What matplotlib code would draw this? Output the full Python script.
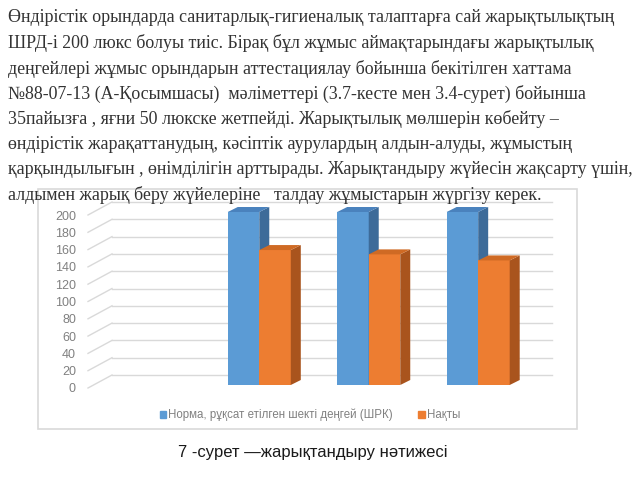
"""Slide: paragraph + 3D-look clustered column chart + caption."""
import matplotlib
matplotlib.use("Agg")
import matplotlib.pyplot as plt
import matplotlib.transforms as mtransforms
from matplotlib.patches import Polygon, Rectangle, Patch

paragraph = [
    "Өндірістік орындарда санитарлық-гигиеналық талаптарға сай жарықтылықтың",
    "ШРД-і 200 люкс болуы тиіс. Бірақ бұл жұмыс аймақтарындағы жарықтылық",
    "деңгейлері жұмыс орындарын аттестациялау бойынша бекітілген хаттама",
    "№88-07-13 (А-Қосымшасы)  мәліметтері (3.7-кесте мен 3.4-сурет) бойынша",
    "35пайызға , яғни 50 люкске жетпейді. Жарықтылық мөлшерін көбейту –",
    "өндірістік жарақаттанудың, кәсіптік аурулардың алдын-алуды, жұмыстың",
    "қарқындылығын , өнімділігін арттырады. Жарықтандыру жүйесін жақсарту үшін,",
    "алдымен жарық беру жүйелеріне   талдау жұмыстарын жүргізу керек.",
]
caption = "7 -сурет —жарықтандыру нәтижесі"

series_names = ["Норма, рұқсат етілген шекті деңгей (ШРК)", "Нақты"]
norm = [200, 200, 200]
actual = [156, 151, 144]
yticks = [0, 20, 40, 60, 80, 100, 120, 140, 160, 180, 200]

W, H = 640, 480
fig = plt.figure(figsize=(6.4, 4.8), dpi=100)


def fx(px):
    return px / W


def fy(py):
    return 1 - py / H


# paragraph text
for i, line in enumerate(paragraph):
    fig.text(fx(8), fy(18 + i * 25.3), line, fontsize=12.9,
             family="Liberation Serif", color="#333333", va="center", ha="left")

# chart frame
fig.patches.append(Rectangle((fx(38), fy(429)), fx(577) - fx(38), fy(189) - fy(429),
                             transform=fig.transFigure, fill=False,
                             edgecolor="#d9d9d9", lw=1.2))

# axes = front plane of the bars
left_px, right_px, bot_px, top_px = 94, 534, 385, 212
ax = fig.add_axes([fx(left_px), fy(bot_px), fx(right_px) - fx(left_px), fy(top_px) - fy(bot_px)])
xmin, xmax = -1.51, 2.51
ax.set_xlim(xmin, xmax)
ax.set_ylim(0, 200)
sx = (right_px - left_px) / (xmax - xmin)   # px per x unit
sy = (bot_px - top_px) / 200                 # px per y unit

# back wall + left wall gridlines
back_dx, back_dy = 18 / sx, 10 / sy
front_dx, front_dy = -6 / sx, -3 / sy
for v in yticks:
    ax.plot([xmin + front_dx, xmin + back_dx], [v + front_dy, v + back_dy],
            color="#d9d9d9", lw=1, clip_on=False, zorder=0)
    ax.plot([xmin + back_dx, xmax + back_dx], [v + back_dy, v + back_dy],
            color="#d9d9d9", lw=1, clip_on=False, zorder=0)

w = 0.288
ddx, ddy = 10 / sx, 5 / sy
styles = [("#5b9bd5", "#4a82bd", "#3d6b99"), ("#ed7d31", "#cf6a24", "#a9541d")]
z = 2
for i in range(len(norm)):
    for j, vals in enumerate([norm, actual]):
        x0 = i - w + j * w
        h = vals[i]
        front, top, side = styles[j]
        ax.bar(x0, h, width=w, align="edge", color=front, zorder=z, clip_on=False)
        ax.add_patch(Polygon([(x0 + w, 0), (x0 + w + ddx, ddy), (x0 + w + ddx, h + ddy), (x0 + w, h)],
                             closed=True, facecolor=side, edgecolor="none", zorder=z, clip_on=False))
        ax.add_patch(Polygon([(x0, h), (x0 + ddx, h + ddy), (x0 + w + ddx, h + ddy), (x0 + w, h)],
                             closed=True, facecolor=top, edgecolor="none", zorder=z, clip_on=False))
        z += 1

ax.set_yticks(yticks)
ax.set_xticks([])
ax.tick_params(axis="y", length=0, pad=13, labelsize=9, labelcolor="#808080")
shift = mtransforms.ScaledTranslation(0, -3 / 100, fig.dpi_scale_trans)
for lab in ax.get_yticklabels():
    lab.set_family("Liberation Sans")
    lab.set_transform(lab.get_transform() + shift)
for s in ax.spines.values():
    s.set_visible(False)
ax.patch.set_visible(False)

handles = [Patch(color=styles[0][0]), Patch(color=styles[1][0])]
leg = fig.legend(handles, series_names, loc="center", bbox_to_anchor=(fx(310), fy(415)),
                 ncol=2, frameon=False, handlelength=0.55, handleheight=0.55,
                 handletextpad=0.2, columnspacing=2.2, prop={"family": "Liberation Sans", "size": 8.3})
for t in leg.get_texts():
    t.set_color("#808080")

fig.text(fx(313), fy(452), caption, fontsize=12, family="Liberation Sans",
         color="#1a1a1a", ha="center", va="center")

fig.savefig("out.png", dpi=100)
